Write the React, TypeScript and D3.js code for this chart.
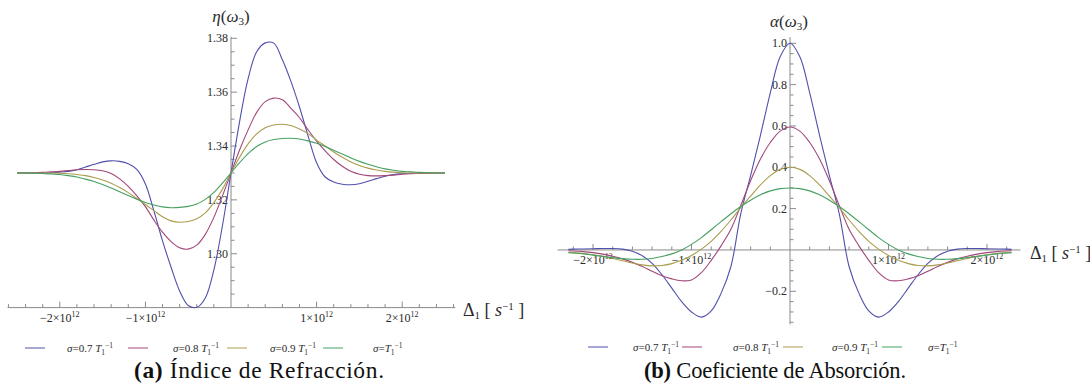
import { useEffect, useRef } from 'react';
import * as d3 from 'd3';

// detuning Δ1, in units of 10^12 s^-1
const deltaEta = [
  -2.5, -2.4, -2.3, -2.2, -2.1, -2.0, -1.9, -1.8, -1.7, -1.6, -1.5, -1.4, -1.3, -1.2, -1.1, -1.0, -0.9,
  -0.8, -0.7, -0.6, -0.5, -0.4, -0.3, -0.2, -0.1, 0, 0.1, 0.2, 0.3, 0.4, 0.5, 0.6, 0.7, 0.8, 0.9, 1.0,
  1.1, 1.2, 1.3, 1.4, 1.5, 1.6, 1.7, 1.8, 1.9, 2.0, 2.1, 2.2, 2.3, 2.4, 2.5,
];

// refraction index η(ω3)
const etaS07 = [
  1.33, 1.33, 1.33, 1.33, 1.3301, 1.3303, 1.3306, 1.3312, 1.3322, 1.3332, 1.3341, 1.3345, 1.3343,
  1.3334, 1.3313, 1.3259, 1.3158, 1.3048, 1.295, 1.2862, 1.2808, 1.2801, 1.2836, 1.294, 1.3104, 1.33,
  1.349, 1.365, 1.375, 1.3783, 1.3782, 1.372, 1.364, 1.3545, 1.3438, 1.3338, 1.3285, 1.3266, 1.3258,
  1.3256, 1.326, 1.3269, 1.3279, 1.3288, 1.3294, 1.3297, 1.3299, 1.33, 1.33, 1.33, 1.33,
];
const etaS08 = [
  1.33, 1.33, 1.3301, 1.3302, 1.3304, 1.3306, 1.3309, 1.3312, 1.3313, 1.3312, 1.3308, 1.3298, 1.3278,
  1.325, 1.3215, 1.3175, 1.3125, 1.308, 1.3045, 1.3022, 1.3017, 1.3032, 1.3072, 1.3135, 1.3215, 1.33,
  1.3385, 1.346, 1.3525, 1.3565, 1.3578, 1.3572, 1.354, 1.3505, 1.346, 1.3418, 1.3382, 1.335, 1.3325,
  1.3306, 1.3295, 1.329, 1.3289, 1.329, 1.3292, 1.3295, 1.3297, 1.3298, 1.3299, 1.33, 1.33,
];
const etaS09 = [
  1.33, 1.33, 1.33, 1.33, 1.33, 1.3299, 1.3297, 1.3294, 1.329, 1.3283, 1.3274, 1.3262, 1.3246, 1.3227,
  1.3205, 1.3183, 1.316, 1.3137, 1.3122, 1.3117, 1.312, 1.313, 1.3152, 1.319, 1.324, 1.33, 1.3358,
  1.3408, 1.3445, 1.3468, 1.3478, 1.3481, 1.3476, 1.3463, 1.3446, 1.3422, 1.34, 1.3378, 1.3358, 1.3341,
  1.3328, 1.3318, 1.3311, 1.3306, 1.3303, 1.3301, 1.33, 1.33, 1.33, 1.33, 1.33,
];
const etaS10 = [
  1.33, 1.33, 1.3299, 1.3298, 1.3296, 1.3294, 1.329, 1.3285, 1.3277, 1.3268, 1.3257, 1.3244, 1.323,
  1.3216, 1.3202, 1.319, 1.3181, 1.3174, 1.3171, 1.3172, 1.3176, 1.3185, 1.3202, 1.3228, 1.3262, 1.33,
  1.3338, 1.3372, 1.3398, 1.3415, 1.3424, 1.3428, 1.3429, 1.3426, 1.3419, 1.341, 1.3398, 1.3384, 1.337,
  1.3356, 1.3343, 1.3332, 1.3323, 1.3315, 1.331, 1.3306, 1.3304, 1.3302, 1.3301, 1.33, 1.33,
];

const deltaAlpha = [
  -2.25, -2.2, -2.1, -2.0, -1.9, -1.8, -1.7, -1.6, -1.5, -1.4, -1.3, -1.2, -1.1, -1.0, -0.9, -0.8, -0.7,
  -0.6, -0.5, -0.4, -0.3, -0.2, -0.1, 0, 0.1, 0.2, 0.3, 0.4, 0.5, 0.6, 0.7, 0.8, 0.9, 1.0, 1.1, 1.2, 1.3,
  1.4, 1.5, 1.6, 1.7, 1.8, 1.9, 2.0, 2.1, 2.2, 2.25,
];

// absorption coefficient α(ω3)
const alphaS07 = [
  0.003, 0.004, 0.005, 0.006, 0.007, 0.007, 0.004, -0.006, -0.028, -0.065, -0.12, -0.185, -0.25, -0.3,
  -0.325, -0.295, -0.21, -0.08, 0.175, 0.36, 0.555, 0.76, 0.935, 1.0, 0.935, 0.76, 0.555, 0.36, 0.175,
  -0.08, -0.21, -0.295, -0.325, -0.3, -0.25, -0.185, -0.12, -0.065, -0.028, -0.006, 0.004, 0.007, 0.007,
  0.006, 0.005, 0.004, 0.003,
];
const alphaS08 = [
  -0.004, -0.005, -0.008, -0.013, -0.02, -0.03, -0.043, -0.06, -0.08, -0.103, -0.125, -0.14, -0.149,
  -0.145, -0.11, -0.05, 0.02, 0.1, 0.215, 0.335, 0.44, 0.52, 0.575, 0.595, 0.575, 0.52, 0.44, 0.335,
  0.215, 0.1, 0.02, -0.05, -0.11, -0.145, -0.149, -0.14, -0.125, -0.103, -0.08, -0.06, -0.043, -0.03,
  -0.02, -0.013, -0.008, -0.005, -0.004,
];
const alphaS09 = [
  -0.011, -0.013, -0.017, -0.023, -0.031, -0.041, -0.052, -0.063, -0.072, -0.077, -0.075, -0.066, -0.05,
  -0.027, 0.004, 0.042, 0.09, 0.145, 0.205, 0.26, 0.315, 0.36, 0.39, 0.4, 0.39, 0.36, 0.315, 0.26, 0.205,
  0.145, 0.09, 0.042, 0.004, -0.027, -0.05, -0.066, -0.075, -0.077, -0.072, -0.063, -0.052, -0.041,
  -0.031, -0.023, -0.017, -0.013, -0.011,
];
const alphaS10 = [
  -0.013, -0.015, -0.019, -0.025, -0.031, -0.037, -0.042, -0.045, -0.045, -0.041, -0.032, -0.019, 0.0,
  0.027, 0.06, 0.098, 0.137, 0.175, 0.21, 0.241, 0.267, 0.286, 0.297, 0.3, 0.297, 0.286, 0.267, 0.241,
  0.21, 0.175, 0.137, 0.098, 0.06, 0.027, 0.0, -0.019, -0.032, -0.041, -0.045, -0.045, -0.042, -0.037,
  -0.031, -0.025, -0.019, -0.015, -0.013,
];

const sigmaLabels = ['0.7', '0.8', '0.9', ''];
const etaTicks = [1.3, 1.32, 1.34, 1.36, 1.38];
const alphaTicks = [-0.2, 0.2, 0.4, 0.6, 0.8, 1.0];
const deltaTicks = [-2, -1, 1, 2];

const COLORS = ['#5050ac', '#a2467a', '#aa9c4e', '#47a062'];
const AXIS = '#8a8a8a';
const INK = '#2a2a2a';
const FONT = '"Liberation Serif", "Times New Roman", serif';

type Part = { t: string; it?: boolean; b?: boolean; sh?: number; fs?: number; dx?: number };

// text made of pieces, with sub/superscripts as baseline shifts
function rich(g: any, x: number, y: number, parts: Part[], size: number, anchor = 'start') {
  const text = g.append('text')
    .attr('x', x)
    .attr('y', y)
    .attr('font-size', size)
    .attr('text-anchor', anchor)
    .attr('fill', INK);
  let cur = 0;
  parts.forEach(p => {
    const ts = text.append('tspan').text(p.t);
    const shift = p.sh ?? 0;
    if (shift !== cur) {
      ts.attr('dy', shift - cur);
      cur = shift;
    }
    if (p.it) ts.attr('font-style', 'italic');
    if (p.b) ts.attr('font-weight', 'bold');
    if (p.fs) ts.attr('font-size', p.fs);
    if (p.dx) ts.attr('dx', p.dx);
  });
  return text;
}

const panels = [
  {
    xs: deltaEta,
    series: [etaS07, etaS08, etaS09, etaS10],
    xDomain: [-2.5, 2.5], xRange: [17, 445],
    yDomain: [1.28, 1.38], yRange: [307.6, 38.3],
    yCross: 1.28,
    xAxisSpan: [-2.61, 2.62], yAxisSpan: [1.28, 1.3806],
    xMinor: [-2.6, 2.6], yMinor: [1.285, 1.38], yMinorStep: 0.005,
    yTicks: etaTicks, yFmt: d3.format('.2f'),
    xLabelDy: 14,
    yLabel: { x: 231, y: 22, sym: 'η' },
    dLabel: { x: 463, y: 316 },
    legendLineX: [25, 128, 227, 323],
    legendTextX: [67, 173, 270, 373],
    legendY: 348,
    caption: { x: 259, y: 378, w: 250, size: 23.5, tag: '(a)', text: ' Índice de Refracción.' },
  },
  {
    xs: deltaAlpha,
    series: [alphaS07, alphaS08, alphaS09, alphaS10],
    xDomain: [-2.25, 2.25], xRange: [568.4, 1011.6],
    yDomain: [-0.2, 1.0], yRange: [291.3, 43.3],
    yCross: 0,
    xAxisSpan: [-2.36, 2.34], yAxisSpan: [-0.36, 1.03],
    xMinor: [-2.2, 2.2], yMinor: [-0.35, 1.0], yMinorStep: 0.05,
    yTicks: alphaTicks, yFmt: d3.format('.1f'),
    xLabelDy: 14,
    yLabel: { x: 789, y: 27, sym: 'α' },
    dLabel: { x: 1030, y: 259 },
    legendLineX: [588, 682, 783, 882],
    legendTextX: [633, 733, 832, 928],
    legendY: 347,
    caption: { x: 775, y: 378, w: 262, size: 22.5, tag: '(b)', text: ' Coeficiente de Absorción.' },
  },
];

function drawPanel(svg: any, p: any) {
  const x = d3.scaleLinear().domain(p.xDomain).range(p.xRange);
  const y = d3.scaleLinear().domain(p.yDomain).range(p.yRange);
  const g = svg.append('g');
  const ox = x(0);
  const oy = y(p.yCross);

  // axes
  const ax = g.append('g').attr('stroke', AXIS).attr('stroke-width', 1).attr('fill', 'none');
  ax.append('line')
    .attr('x1', x(p.xAxisSpan[0])).attr('x2', x(p.xAxisSpan[1]))
    .attr('y1', oy).attr('y2', oy);
  ax.append('line')
    .attr('x1', ox).attr('x2', ox)
    .attr('y1', y(p.yAxisSpan[0])).attr('y2', y(p.yAxisSpan[1]));

  // x ticks (pointing up), minor every 0.2
  const nx = Math.round((p.xMinor[1] - p.xMinor[0]) / 0.2);
  d3.range(nx + 1).map(i => p.xMinor[0] + i * 0.2).forEach(v => {
    if (Math.abs(v) < 1e-6) return;
    const major = Math.abs(v - Math.round(v)) < 1e-6;
    ax.append('line')
      .attr('x1', x(v)).attr('x2', x(v))
      .attr('y1', oy).attr('y2', oy - (major ? 6 : 3.5));
  });

  // y ticks (pointing right)
  const ny = Math.round((p.yMinor[1] - p.yMinor[0]) / p.yMinorStep);
  const majorSet = p.yTicks.map((t: number) => t.toFixed(3));
  d3.range(ny + 1).map(i => p.yMinor[0] + i * p.yMinorStep).forEach(v => {
    if (Math.abs(v - p.yCross) < 1e-6) return;
    const major = majorSet.includes(v.toFixed(3));
    ax.append('line')
      .attr('x1', ox).attr('x2', ox + (major ? 6 : 3.5))
      .attr('y1', y(v)).attr('y2', y(v));
  });

  // tick labels
  p.yTicks.forEach((t: number) => {
    g.append('text')
      .attr('x', ox - 3)
      .attr('y', y(t))
      .attr('dy', '0.33em')
      .attr('text-anchor', 'end')
      .attr('font-size', 12)
      .attr('fill', INK)
      .text(p.yFmt(t));
  });
  deltaTicks.forEach(t => {
    rich(g, x(t), oy + p.xLabelDy, [
      { t: `${t < 0 ? '\u2212' : ''}${Math.abs(t)}\u00d710` },
      { t: '12', sh: -5, fs: 8 },
    ], 12, 'middle');
  });

  // curves
  const line = d3.line<number>()
    .x((_, i) => x(p.xs[i]))
    .y(d => y(d))
    .curve(d3.curveCatmullRom.alpha(0.5));
  p.series.forEach((s: number[], i: number) => {
    g.append('path')
      .datum(s)
      .attr('fill', 'none')
      .attr('stroke', COLORS[i])
      .attr('stroke-width', 1.1)
      .attr('d', line);
  });

  // axis labels
  rich(g, p.yLabel.x, p.yLabel.y, [
    { t: p.yLabel.sym, it: true },
    { t: '(' },
    { t: 'ω', it: true },
    { t: '3', sh: 3, fs: 11 },
    { t: ')', sh: 0 },
  ], 17, 'middle');
  rich(g, p.dLabel.x, p.dLabel.y, [
    { t: 'Δ' },
    { t: '1', sh: 3, fs: 11 },
    { t: ' [ ', sh: 0 },
    { t: 's', it: true },
    { t: '\u22121', sh: -6, fs: 11 },
    { t: ' ]', sh: 0 },
  ], 18);

  // legend
  sigmaLabels.forEach((s, i) => {
    g.append('line')
      .attr('x1', p.legendLineX[i]).attr('x2', p.legendLineX[i] + 20)
      .attr('y1', p.legendY).attr('y2', p.legendY)
      .attr('stroke', COLORS[i])
      .attr('stroke-width', 1);
    const parts: Part[] = [{ t: 'σ', it: true }, { t: s ? `=${s} ` : '=' }, { t: 'T', it: true },
      { t: '1', sh: 2.5, fs: 7.5 }, { t: '\u22121', sh: -4, fs: 7.5 }];
    rich(g, p.legendTextX[i], p.legendY + 4, parts, 11);
  });

  // caption
  rich(g, p.caption.x, p.caption.y, [
    { t: p.caption.tag, b: true },
    { t: p.caption.text },
  ], p.caption.size, 'middle')
    .attr('fill', '#111')
    .attr('textLength', p.caption.w);
}

export default function App() {
  const svgRef = useRef<SVGSVGElement>(null);

  useEffect(() => {
    const svg = d3.select(svgRef.current);
    svg.selectAll('*').remove();
    panels.forEach(p => drawPanel(svg, p));
  }, []);

  return (
    <svg
      ref={svgRef}
      width={1090}
      height={389}
      style={{ position: 'absolute', left: 0, top: 0, background: '#fff', fontFamily: FONT }}
    />
  );
}
